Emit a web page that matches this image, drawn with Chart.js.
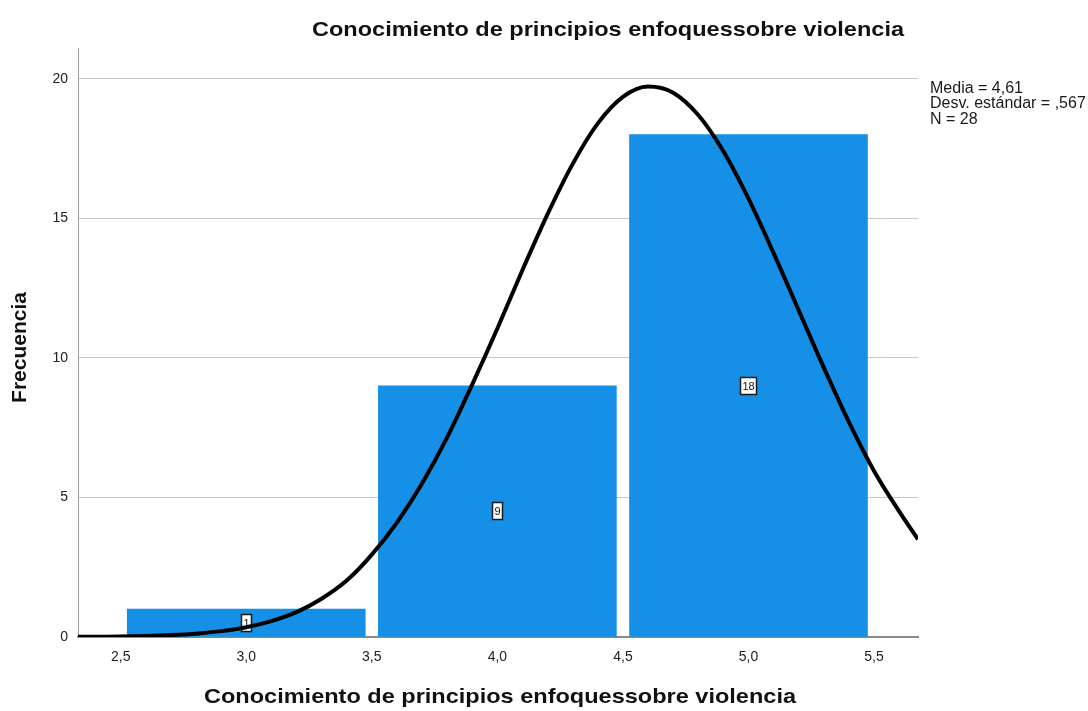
<!DOCTYPE html>
<html lang="es">
<head>
  <meta charset="UTF-8">
  <title>Conocimiento de principios enfoquessobre violencia</title>
  <script src="https://cdn.jsdelivr.net/npm/chart.js"></script>
  <style>
    body {
      margin: 0;
      background: #fff;
    }
    #wrap {
      width: 1088px;
      height: 711px;
    }
  </style>
</head>
<body>
<div id="wrap">
  <canvas id="histChart" width="1088" height="711"></canvas>
</div>

<script>
  // Histogram bins (centre of each bin) and counts
  const binCenters = [3.0, 4.0, 5.0];
  const binCounts = [1, 9, 18];

  // Normal curve, values
  const curveX = [2.33, 2.4, 2.5, 2.6, 2.7, 2.8, 2.9, 3.0, 3.1, 3.2, 3.3, 3.4, 3.5, 3.6, 3.7, 3.8, 3.9,
                  4.0, 4.1, 4.2, 4.3, 4.4, 4.5, 4.6, 4.7, 4.8, 4.9, 5.0, 5.1, 5.2, 5.3, 5.4, 5.5, 5.6, 5.675];
  const curveY = [0.01, 0.01, 0.02, 0.04, 0.07, 0.12, 0.21, 0.35, 0.57, 0.89, 1.37, 2.02, 2.95, 4.1, 5.5, 7.15, 9.05,
                  11.05, 13.15, 15.15, 16.95, 18.4, 19.35, 19.72, 19.5, 18.7, 17.4, 15.7, 13.75, 11.7, 9.65, 7.7, 5.95, 4.5, 3.5];

  // Axis ticks
  const xTicks = [2.5, 3.0, 3.5, 4.0, 4.5, 5.0, 5.5];
  const yTicks = [0, 5, 10, 15, 20];

  const chartTitle = 'Conocimiento de principios enfoquessobre violencia';
  const xTitle = 'Conocimiento de principios enfoquessobre violencia';
  const yTitle = 'Frecuencia';
  const statsLines = ['Media = 4,61', 'Desv. estándar = ,567', 'N = 28'];

  const FONT = '"Liberation Sans", Arial, sans-serif';

  // Count labels in small boxes, in the middle of each bar (drawn before the curve)
  const barLabels = {
    id: 'barLabels',
    afterDatasetDraw(chart, args) {
      if (args.index !== 1) return;
      const ctx = chart.ctx;
      ctx.save();
      ctx.font = '11px ' + FONT;
      ctx.textAlign = 'center';
      ctx.textBaseline = 'middle';
      args.meta.data.forEach((bar, i) => {
        const txt = String(binCounts[i]);
        const cx = Math.round(bar.x);
        const cy = Math.round(chart.scales.y.getPixelForValue(binCounts[i] / 2));
        const w = Math.round(ctx.measureText(txt).width) + 4;
        const h = 17;
        const left = cx - Math.round(w / 2);
        const top = cy - Math.round(h / 2);
        ctx.fillStyle = '#fff';
        ctx.fillRect(left, top, w, h);
        ctx.strokeStyle = '#1a1a1a';
        ctx.lineWidth = 1.5;
        ctx.strokeRect(left + 0.5, top + 0.5, w, h);
        ctx.fillStyle = '#111';
        ctx.fillText(txt, cx + 0.5, cy + 1);
      });
      ctx.restore();
    }
  };

  // Titles (horizontal ones a little wider than the font) and the statistics box
  const extraText = {
    id: 'extraText',
    afterDraw(chart) {
      const ctx = chart.ctx;
      const area = chart.chartArea;
      ctx.save();
      ctx.fillStyle = '#111';
      ctx.font = 'bold 21px ' + FONT;
      ctx.textAlign = 'center';
      ctx.textBaseline = 'middle';

      ctx.save();
      ctx.translate(608, 30);
      ctx.scale(1.12, 1);
      ctx.fillText(chartTitle, 0, 0);
      ctx.restore();

      ctx.save();
      ctx.translate((area.left + area.right) / 2 + 2, 697);
      ctx.scale(1.12, 1);
      ctx.fillText(xTitle, 0, 0);
      ctx.restore();

      ctx.save();
      ctx.translate(20, (area.top + area.bottom) / 2 + 5);
      ctx.rotate(-Math.PI / 2);
      ctx.fillText(yTitle, 0, 0);
      ctx.restore();

      ctx.font = '16px ' + FONT;
      ctx.textAlign = 'left';
      ctx.textBaseline = 'alphabetic';
      ctx.fillStyle = '#1a1a1a';
      statsLines.forEach((line, i) => {
        ctx.fillText(line, area.right + 12, 93 + i * 15.4);
      });
      ctx.restore();
    }
  };

  const ctx = document.getElementById('histChart').getContext('2d');
  new Chart(ctx, {
    type: 'bar',
    data: {
      datasets: [
        {
          type: 'line',
          xAxisID: 'xc',
          data: curveX.map((x, i) => ({ x: x, y: curveY[i] })),
          borderColor: '#000',
          borderWidth: 4,
          pointRadius: 0,
          tension: 0.4,
          cubicInterpolationMode: 'monotone',
          fill: false,
          order: 0
        },
        {
          type: 'bar',
          xAxisID: 'x',
          data: binCenters.map((x, i) => ({ x: x, y: binCounts[i] })),
          backgroundColor: '#1590e6',
          borderWidth: 0,
          grouped: false,
          barThickness: 238,
          order: 1
        }
      ]
    },
    options: {
      responsive: false,
      animation: false,
      layout: {
        padding: { top: 48, right: 170, left: 0, bottom: 0 }
      },
      plugins: {
        legend: { display: false },
        tooltip: { enabled: false },
        title: { display: false }
      },
      scales: {
        x: {
          type: 'linear',
          position: 'bottom',
          min: 2.33,
          max: 5.675,
          offset: false,
          afterBuildTicks: s => { s.ticks = xTicks.map(v => ({ value: v })); },
          afterFit: s => { s.height = 74; },
          grid: { display: false, drawTicks: false },
          border: { display: true, color: '#8a8a8a', width: 2 },
          ticks: {
            padding: 12,
            color: '#222',
            font: { family: FONT, size: 14 },
            callback: v => v.toFixed(1).replace('.', ',')
          },
          title: { display: false }
        },
        xc: {
          type: 'linear',
          position: 'bottom',
          display: false,
          min: 2.33,
          max: 5.675,
          offset: false
        },
        y: {
          min: 0,
          max: 21.1,
          afterBuildTicks: s => { s.ticks = yTicks.map(v => ({ value: v })); },
          afterFit: s => { s.width = 78; },
          grid: {
            color: c => c.tick && c.tick.value === 0 ? 'rgba(0,0,0,0)' : '#c8c8c8',
            lineWidth: 1,
            drawTicks: false
          },
          border: { display: true, color: '#9a9a9a', width: 1 },
          ticks: {
            padding: 10,
            color: '#222',
            font: { family: FONT, size: 14 }
          },
          title: { display: false }
        }
      }
    },
    plugins: [barLabels, extraText]
  });
</script>
</body>
</html>
